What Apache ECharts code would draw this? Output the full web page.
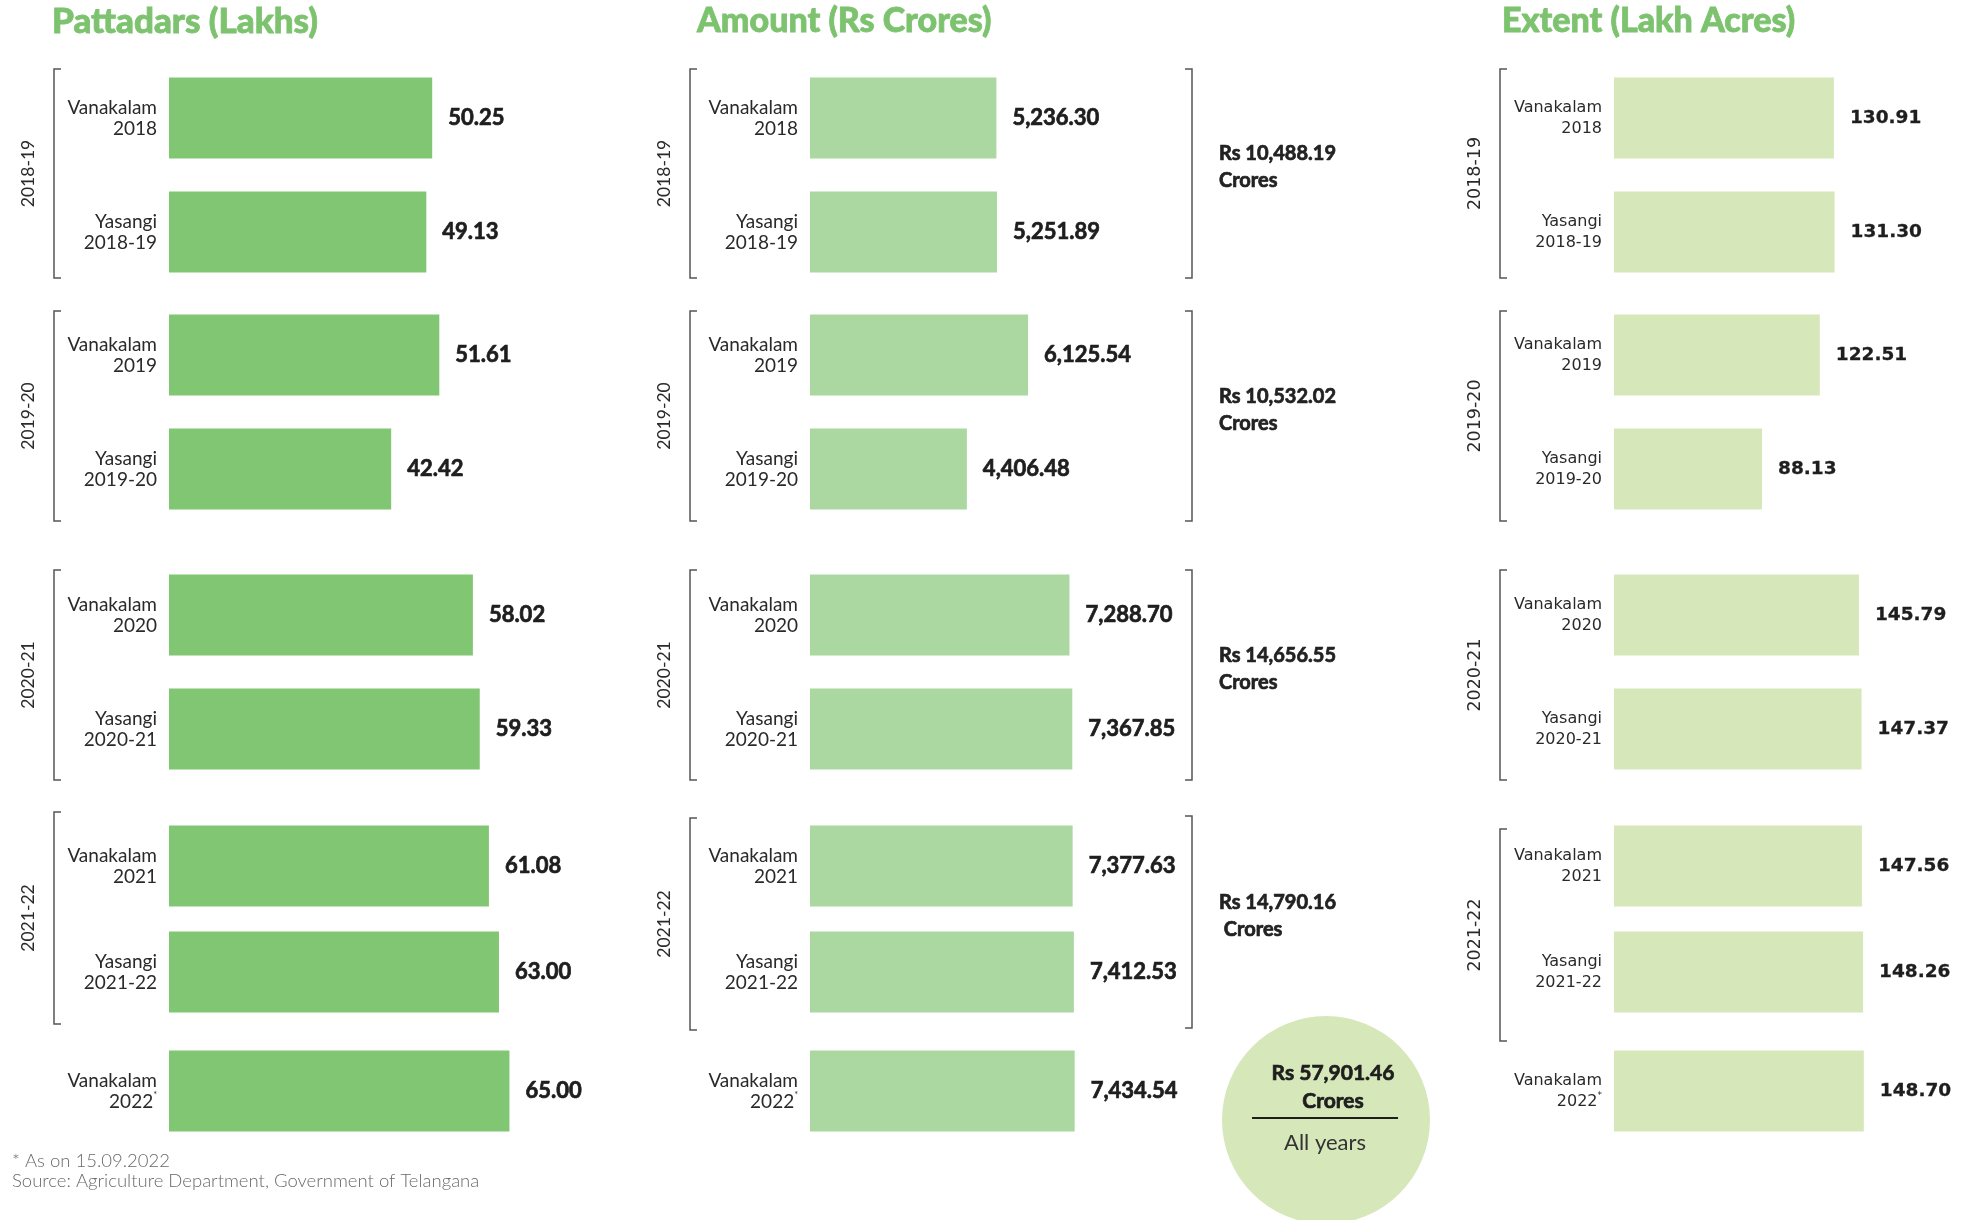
<!DOCTYPE html>
<html>
<head>
<meta charset="utf-8">
<script src="https://cdn.jsdelivr.net/npm/echarts@6/dist/echarts.min.js"></script>
<style>
  html, body {margin: 0; background: #fff}
  #chart {width: 1963px; height: 1220px}
</style>
</head>
<body>
<div id="chart"></div>
<script>
// data
const groupNames = ["2018-19", "2019-20", "2020-21", "2021-22"]
const seasonLabels = [
    ["Vanakalam\n2018", "Yasangi\n2018-19"],
    ["Vanakalam\n2019", "Yasangi\n2019-20"],
    ["Vanakalam\n2020", "Yasangi\n2020-21"],
    ["Vanakalam\n2021", "Yasangi\n2021-22"],
    ["Vanakalam\n2022*"]
]
const pattadars = [[50.25, 49.13], [51.61, 42.42], [58.02, 59.33], [61.08, 63.00], [65.00]]
const amount = [[5236.30, 5251.89], [6125.54, 4406.48], [7288.70, 7367.85], [7377.63, 7412.53], [7434.54]]
const extent = [[130.91, 131.30], [122.51, 88.13], [145.79, 147.37], [147.56, 148.26], [148.70]]
const amountTotals = ["Rs 10,488.19\nCrores", "Rs 10,532.02\nCrores", "Rs 14,656.55\nCrores", "Rs 14,790.16\n Crores"]
const grandTotal = "Rs 57,901.46"
const footnotes = ["* As on 15.09.2022", "Source: Agriculture Department, Government of Telangana"]

// layout (px)
const rows = [
    {top: 61, height: 228},
    {top: 298, height: 228},
    {top: 558, height: 228},
    {top: 813, height: 212},
    {top: 1034, height: 114}
]
const brackets = [[69, 278], [311, 521], [570, 780], [816, 1028]]

const money = v => v.toLocaleString("en-US", {minimumFractionDigits: 2, maximumFractionDigits: 2})
const fixed2 = v => v.toFixed(2)

const panels = [
    {title: "Pattadars (Lakhs)", titleX: 52, titleSize: 35, data: pattadars, left: 169, width: 419, max: 80,
     color: "#80C673", fmt: fixed2, bracketX: 54, yearX: 28, font: "Lato", lastShift: -4},
    {title: "Amount (Rs Crores)", titleX: 697, titleSize: 34, data: amount, left: 810, width: 356, max: 10000,
     color: "#ABD7A1", fmt: money, bracketX: 690, yearX: 664, font: "Lato", lastShift: 2},
    {title: "Extent (Lakh Acres)", titleX: 1502, titleSize: 34, data: extent, left: 1614, width: 336, max: 200,
     color: "#D6E7B9", fmt: fixed2, bracketX: 1500, yearX: 1475, font: "DejaVu Sans", lastShift: 13}
]

const txt = (text, x, y, size, weight, family, fill, extra) => ({
    type: "text", x, y, silent: true,
    style: Object.assign({text, align: "left", verticalAlign: "middle",
        fontSize: size, fontWeight: weight, fontFamily: family, fill}, extra || {})
})
const heavy = c => ({stroke: c, lineWidth: 0.7})

const grid = [], xAxis = [], yAxis = [], series = [], graphic = []

panels.forEach(p => {
    const lato = p.font == "Lato"
    p.data.forEach((vals, g) => {
        const i = grid.length
        grid.push({left: p.left, width: p.width, top: rows[g].top, height: rows[g].height})
        xAxis.push({gridIndex: i, type: "value", min: 0, max: p.max, show: false})
        yAxis.push({
            gridIndex: i, type: "category", inverse: true, data: seasonLabels[g],
            axisLine: {show: false}, axisTick: {show: false},
            axisLabel: {
                margin: 12, fontSize: lato ? 19 : 16, lineHeight: 21,
                color: "#2a2a2a", fontFamily: p.font,
                formatter: v => v.replace("*", "{s|*}"),
                rich: {s: {fontSize: 9, verticalAlign: "top", padding: [0, 0, 8, 0], fontFamily: p.font, color: "#2a2a2a"}}
            }
        })
        series.push({
            type: "bar", xAxisIndex: i, yAxisIndex: i, barWidth: 81,
            data: vals, itemStyle: {color: p.color}, silent: true,
            label: {
                show: true, position: "right", distance: 16,
                formatter: q => p.fmt(q.value),
                fontFamily: p.font, fontWeight: "bold",
                fontSize: lato ? 22 : 18.5, color: "#1e1e1e",
                textBorderColor: "#1e1e1e", textBorderWidth: lato ? 0.7 : 0.3
            }
        })
    })

    // brackets and year labels
    brackets.forEach(([y1, y2], g) => {
        if (g == 3) { y1 += p.lastShift; y2 += p.lastShift }
        const x = p.bracketX
        graphic.push({
            type: "polyline", silent: true,
            shape: {points: [[x + 7, y1], [x, y1], [x, y2], [x + 7, y2]]},
            style: {stroke: "#555", lineWidth: 1.5, fill: null}
        })
        graphic.push(Object.assign(
            txt(groupNames[g], p.yearX, (y1 + y2) / 2, 17.5, "normal", p.font, "#2a2a2a", {align: "center"}),
            {rotation: Math.PI / 2}
        ))
    })
})

// amount totals with right-side brackets
brackets.forEach(([y1, y2], g) => {
    const x = 1192
    graphic.push({
        type: "polyline", silent: true,
        shape: {points: [[x - 7, y1], [x, y1], [x, y2], [x - 7, y2]]},
        style: {stroke: "#555", lineWidth: 1.5, fill: null}
    })
    graphic.push(txt(amountTotals[g], 1219, (y1 + y2) / 2 - 6, 20, "bold", "Lato", "#222",
        Object.assign({lineHeight: 27}, heavy("#222"))))
})

// grand total circle
graphic.push(
    {type: "circle", silent: true, shape: {cx: 1326, cy: 1120, r: 104}, style: {fill: "#D6E7B9"}},
    txt(grandTotal, 1333, 1073, 21, "bold", "Lato", "#1e1e1e", Object.assign({align: "center"}, heavy("#1e1e1e"))),
    txt("Crores", 1333, 1101, 21, "bold", "Lato", "#1e1e1e", Object.assign({align: "center"}, heavy("#1e1e1e"))),
    {type: "line", silent: true, shape: {x1: 1252, y1: 1118, x2: 1398, y2: 1118}, style: {stroke: "#1e1e1e", lineWidth: 2}},
    txt("All years", 1325, 1143, 22, "normal", "Lato", "#333", {align: "center"})
)

// footnotes
footnotes.forEach((t, k) => graphic.push(txt(t, 12, 1161 + k * 20, 18.5, 300, "Lato", "#6a6a6a")))

const chart = echarts.init(document.getElementById("chart"))
chart.setOption({
    animation: false,
    backgroundColor: "#fff",
    title: panels.map(p => ({
        text: p.title, left: p.titleX, top: 4, padding: 0,
        textStyle: {fontFamily: "Lato", fontWeight: 900, fontSize: p.titleSize, color: "#7DC36F",
                    textBorderColor: "#7DC36F", textBorderWidth: 0.8}
    })),
    grid, xAxis, yAxis, series, graphic
})
</script>
</body>
</html>
